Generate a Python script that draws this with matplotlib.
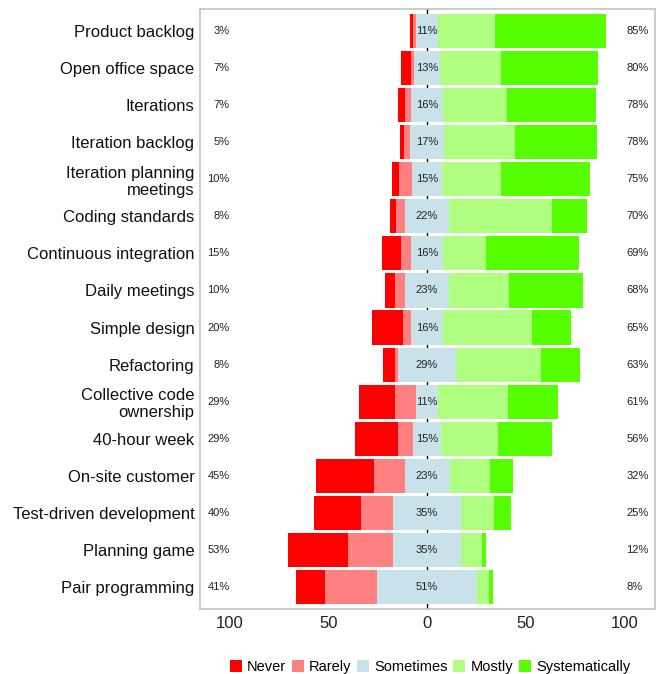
import matplotlib
matplotlib.use("Agg")
import matplotlib.pyplot as plt
import numpy as np

plt.rcParams['font.family'] = ['Liberation Sans', 'DejaVu Sans']

practices = ["Product backlog", "Open office space", "Iterations", "Iteration backlog",
             "Iteration planning\nmeetings", "Coding standards", "Continuous integration",
             "Daily meetings", "Simple design", "Refactoring", "Collective code\nownership",
             "40-hour week", "On-site customer", "Test-driven development",
             "Planning game", "Pair programming"]

# percentages of answers per practice
never = [1.8, 5.3, 3.7, 1.9, 3.5, 3.5, 10.0, 5.0, 15.8, 6.5, 18.3, 21.7, 29.3, 23.8, 30.0, 15.1]
rarely = [1.4, 1.6, 3.2, 3.3, 6.5, 4.5, 5.0, 5.0, 4.2, 1.5, 10.7, 7.5, 15.7, 16.2, 22.8, 26.1]
sometimes = [11, 13, 16, 17, 15, 22, 16, 22.6, 16, 29, 10.8, 14.6, 22.8, 34.8, 34.8, 50.8]
mostly = [29, 31, 32.5, 36.3, 30.2, 52.3, 21.7, 30.4, 45, 43.3, 35.4, 28.6, 20.6, 16.6, 10.4, 6.0]
systematically = [56, 49, 45.3, 41.5, 44.8, 17.7, 47.3, 37.4, 19.8, 19.7, 25.4, 27.2, 11.6, 8.6, 2.0, 2.0]

levels = ["Never", "Rarely", "Sometimes", "Mostly", "Systematically"]
colors = ["#FF0000", "#FF8080", "#C9E2EA", "#AFFF80", "#55FF00"]

never = np.array(never)
rarely = np.array(rarely)
sometimes = np.array(sometimes)
mostly = np.array(mostly)
systematically = np.array(systematically)

fig = plt.figure(figsize=(6.6, 6.74), dpi=100)
ax = fig.add_axes([200/660, 1-609/674, 455/660, 600/674])

y = np.arange(len(practices))
h = 0.92
half = sometimes / 2

ax.axvline(0, color="black", lw=1, zorder=1)

ax.barh(y, never, left=-half-rarely-never, height=h, color=colors[0], label=levels[0], zorder=2)
ax.barh(y, rarely, left=-half-rarely, height=h, color=colors[1], label=levels[1], zorder=2)
ax.barh(y, sometimes, left=-half, height=h, color=colors[2], label=levels[2], zorder=2)
ax.barh(y, mostly, left=half, height=h, color=colors[3], label=levels[3], zorder=2)
ax.barh(y, systematically, left=half+mostly, height=h, color=colors[4], label=levels[4], zorder=2)

for i in range(len(practices)):
    ax.text(-100, y[i], f"{never[i]+rarely[i]:.0f}%", ha="right", va="center", fontsize=8, color="#222222")
    ax.text(0, y[i], f"{sometimes[i]:.0f}%", ha="center", va="center", fontsize=8, color="#222222", zorder=3)
    ax.text(101, y[i], f"{mostly[i]+systematically[i]:.0f}%", ha="left", va="center", fontsize=8, color="#222222")

ax.set_xlim(-115, 115.5)
ax.set_ylim(len(practices)-0.405, -0.595)
ax.set_xticks([-100, -50, 0, 50, 100])
ax.set_xticklabels(["100", "50", "0", "50", "100"], fontsize=12, color="#222222")
ax.set_yticks(y)
ax.set_yticklabels(practices, fontsize=12, color="#111111")
for lab in ax.get_yticklabels():
    lab.set_linespacing(1.15)
ax.tick_params(axis="both", length=0)
ax.tick_params(axis="y", pad=4)
ax.tick_params(axis="x", pad=5)

for s in ax.spines.values():
    s.set_color("#BEBEBE")
    s.set_linewidth(1.1)

fig.legend(loc="center", bbox_to_anchor=(430/660, 1-667/674), ncol=5, frameon=False,
           fontsize=10.5, handlelength=0.82, handleheight=0.9, handletextpad=0.35,
           columnspacing=0.4)

fig.savefig("out.png", dpi=100)
